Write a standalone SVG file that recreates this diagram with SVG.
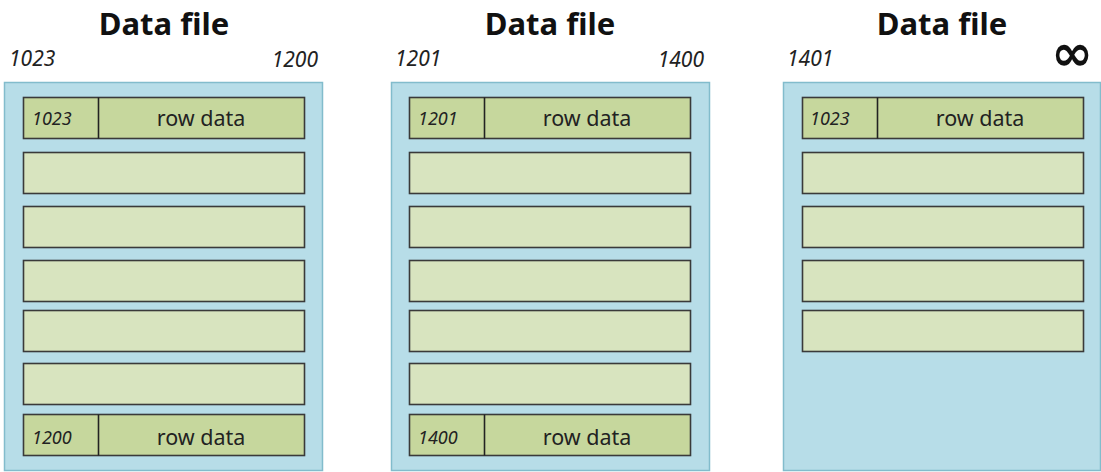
<svg xmlns="http://www.w3.org/2000/svg" width="1101" height="472" viewBox="0 0 1101 472">
<style>
.title{font-family:"Noto Sans","Open Sans",sans-serif;font-weight:bold;font-size:31px;fill:#111;text-anchor:middle}
.rng{font-family:"Noto Sans","Open Sans",sans-serif;font-style:italic;font-size:21px;fill:#222}
.panel{fill:#b7dde8;stroke:#82bccc;stroke-width:1.5}
.rowh{fill:#c6d79d;stroke:#3a3a3a;stroke-width:1.6}
.rowe{fill:#d8e4bf;stroke:#3a3a3a;stroke-width:1.6}
.div{stroke:#222;stroke-width:1.6}
.num{font-family:"Noto Sans","Open Sans",sans-serif;font-style:italic;font-size:18px;fill:#222}
.rd{font-family:"Noto Sans","Open Sans",sans-serif;font-size:21.5px;fill:#222;text-anchor:middle}
</style>
<g id="file1">
<text class="title" x="164" y="35">Data file</text>
<text class="rng" x="9" y="66">1023</text>
<text class="rng" x="318" y="67" text-anchor="end">1200</text>
<rect class="panel" x="4.5" y="82.5" width="318" height="388"/>
<rect class="rowh" x="23.5" y="97.5" width="281" height="41"/>
<line class="div" x1="98.5" y1="97.5" x2="98.5" y2="138.5"/>
<text class="num" x="32" y="125">1023</text>
<text class="rd" x="201" y="126">row data</text>
<rect class="rowe" x="23.5" y="152.5" width="281" height="41"/>
<rect class="rowe" x="23.5" y="206.5" width="281" height="41"/>
<rect class="rowe" x="23.5" y="260.5" width="281" height="41"/>
<rect class="rowe" x="23.5" y="310.5" width="281" height="41"/>
<rect class="rowe" x="23.5" y="363.5" width="281" height="41"/>
<rect class="rowh" x="23.5" y="414.5" width="281" height="41"/>
<line class="div" x1="98.5" y1="414.5" x2="98.5" y2="455.5"/>
<text class="num" x="32" y="444">1200</text>
<text class="rd" x="201" y="445">row data</text>
</g>
<g id="file2">
<text class="title" x="550" y="35">Data file</text>
<text class="rng" x="395" y="66">1201</text>
<text class="rng" x="704" y="67" text-anchor="end">1400</text>
<rect class="panel" x="391.5" y="82.5" width="318" height="388"/>
<rect class="rowh" x="409.5" y="97.5" width="281" height="41"/>
<line class="div" x1="484.5" y1="97.5" x2="484.5" y2="138.5"/>
<text class="num" x="418" y="125">1201</text>
<text class="rd" x="587" y="126">row data</text>
<rect class="rowe" x="409.5" y="152.5" width="281" height="41"/>
<rect class="rowe" x="409.5" y="206.5" width="281" height="41"/>
<rect class="rowe" x="409.5" y="260.5" width="281" height="41"/>
<rect class="rowe" x="409.5" y="310.5" width="281" height="41"/>
<rect class="rowe" x="409.5" y="363.5" width="281" height="41"/>
<rect class="rowh" x="409.5" y="414.5" width="281" height="41"/>
<line class="div" x1="484.5" y1="414.5" x2="484.5" y2="455.5"/>
<text class="num" x="418" y="444">1400</text>
<text class="rd" x="587" y="445">row data</text>
</g>
<g id="file3">
<text class="title" x="942" y="35">Data file</text>
<text class="rng" x="787" y="66">1401</text>
<text x="1093" y="70" text-anchor="end" style="font-family:'DejaVu Sans',sans-serif;font-weight:bold;font-size:50px;fill:#111">∞</text>
<rect class="panel" x="783.5" y="82.5" width="317" height="388"/>
<rect class="rowh" x="802.5" y="97.5" width="281" height="41"/>
<line class="div" x1="877.5" y1="97.5" x2="877.5" y2="138.5"/>
<text class="num" x="810" y="125">1023</text>
<text class="rd" x="980" y="126">row data</text>
<rect class="rowe" x="802.5" y="152.5" width="281" height="41"/>
<rect class="rowe" x="802.5" y="206.5" width="281" height="41"/>
<rect class="rowe" x="802.5" y="260.5" width="281" height="41"/>
<rect class="rowe" x="802.5" y="310.5" width="281" height="41"/>
</g>
</svg>
